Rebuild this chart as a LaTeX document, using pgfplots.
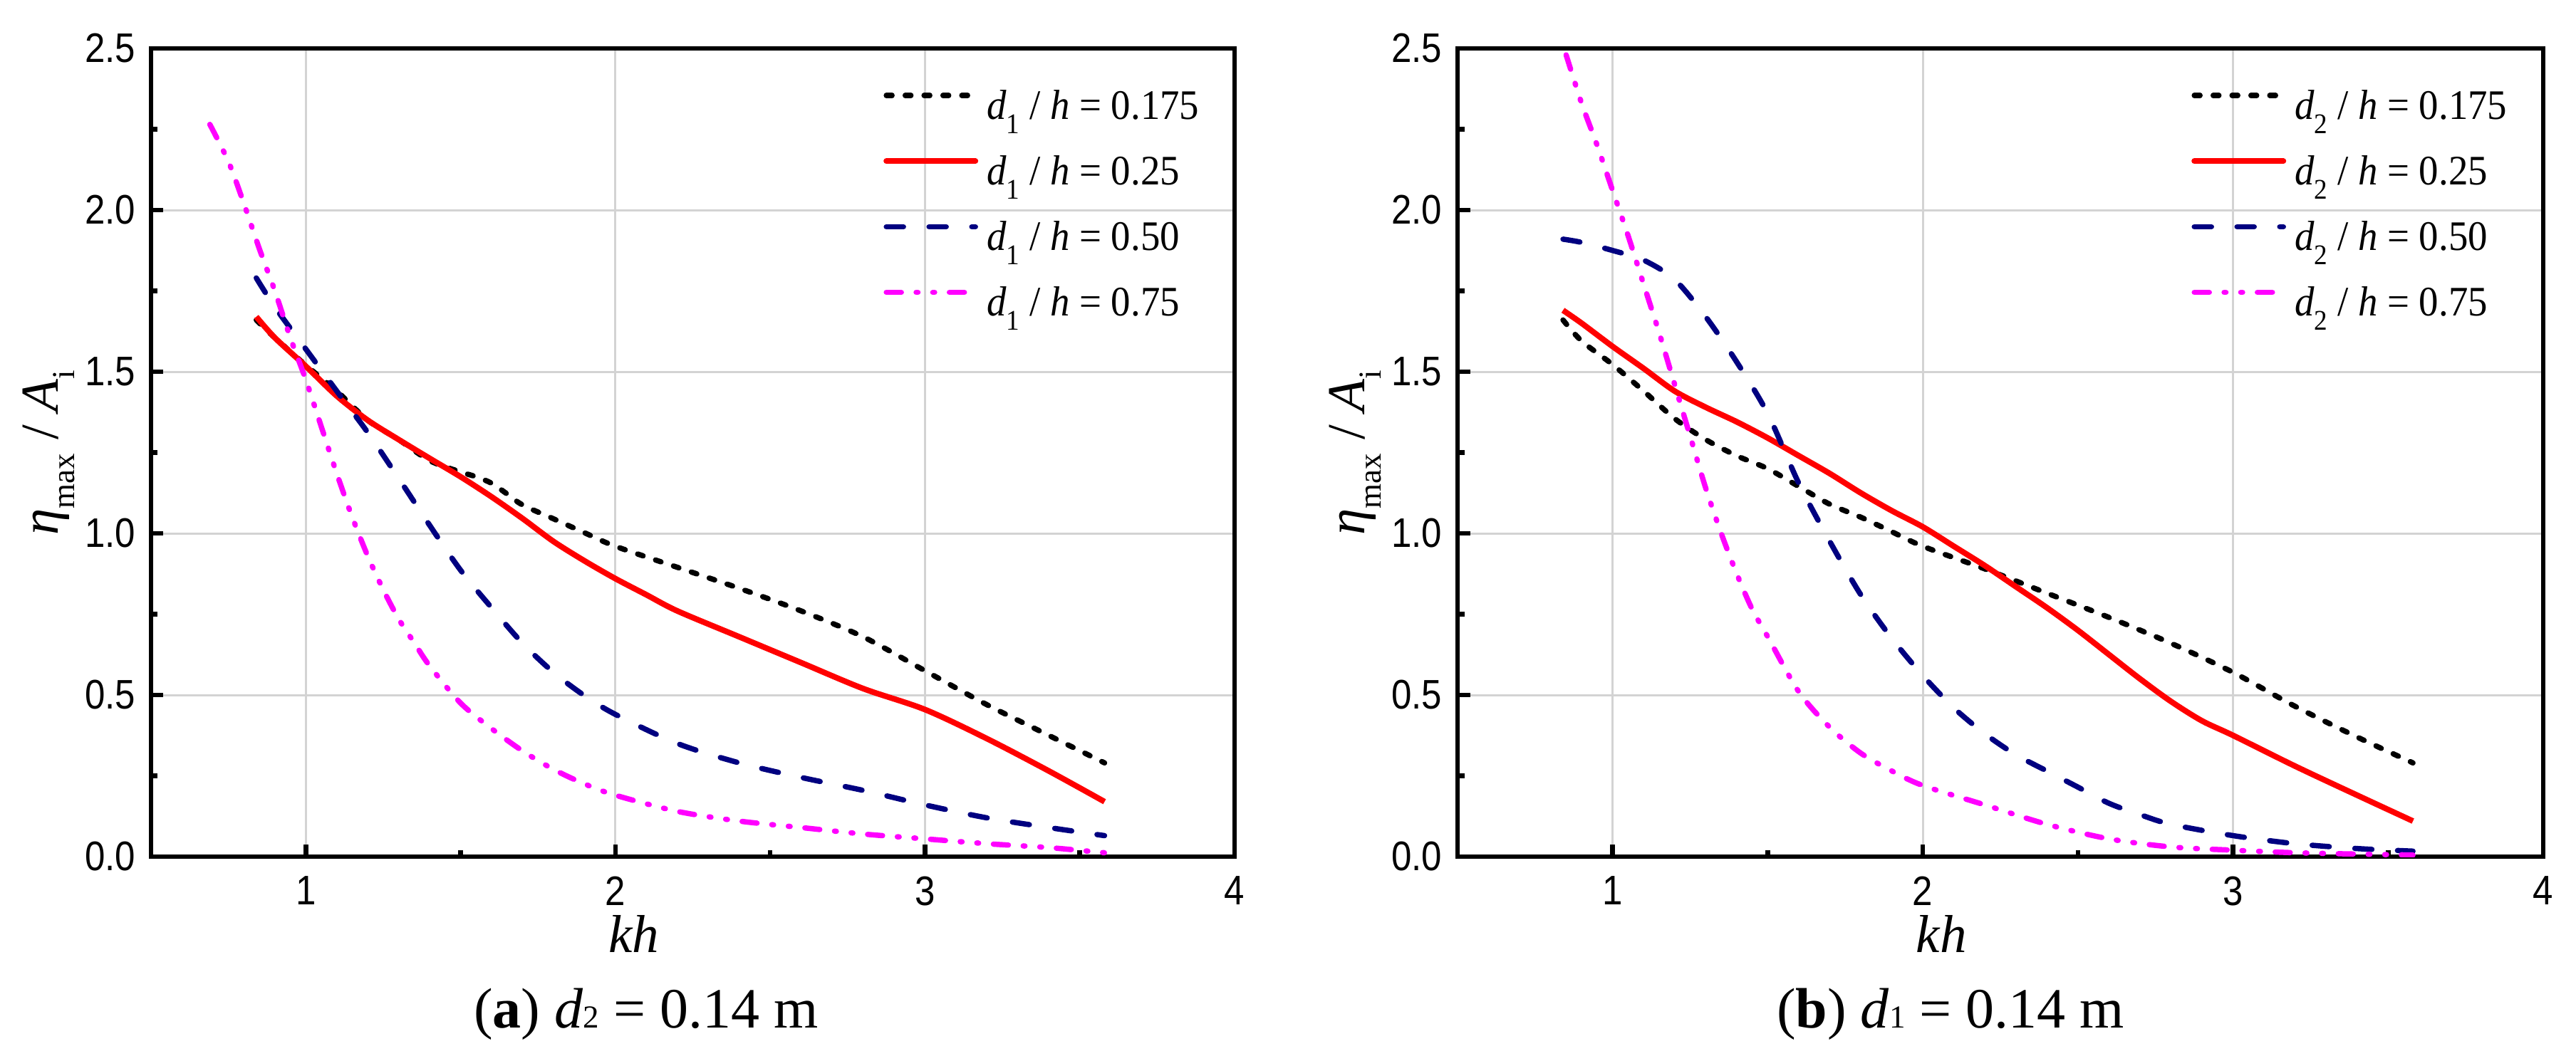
\documentclass[border=0pt]{standalone}
\usepackage{fontspec}
\setmainfont{Liberation Serif}
\newfontfamily\ticksans[FakeStretch=0.88]{Liberation Sans}
\newfontfamily\legfont[FakeStretch=0.93]{Liberation Serif}
\usepackage{pgfplots}
\pgfplotsset{compat=1.18}
\definecolor{navyc}{RGB}{0,0,128}
\definecolor{magc}{RGB}{255,0,255}
\definecolor{gridc}{RGB}{211,211,211}
\newcommand{\lsub}[1]{\raisebox{-4pt}{\fontsize{8}{8}\selectfont #1}}
\newcommand{\ysub}[1]{\raisebox{-4.5pt}{\fontsize{9}{9}\selectfont #1}}

\pgfplotsset{
  myaxis/.style={
    scale only axis, height=227pt, anchor=south west,
    xmin=0.5, xmax=4, ymin=0, ymax=2.5,
    xtick={1,2,3,4}, minor xtick={1.5,2.5,3.5},
    ytick={0,0.5,1,1.5,2,2.5}, minor ytick={0.25,0.75,1.25,1.75,2.25},
    tick align=inside, xtick pos=bottom, ytick pos=left,
    major tick length=3.5pt, minor tick length=1.9pt,
    every tick/.style={black, line width=1.3pt},
    axis line style={line width=1.3pt},
    grid=major, major grid style={color=gridc, line width=0.6pt},
    /pgf/number format/assume math mode=true,
    ticklabel style={font=\ticksans\fontsize{11.6}{12}\selectfont},
    yticklabel style={/pgf/number format/fixed, /pgf/number format/fixed zerofill, /pgf/number format/precision=1},
    y tick label style={inner xsep=0pt, xshift=-4.2pt},
    x tick label style={inner ysep=0pt, yshift=-5.4pt},
    every axis x label/.style={at={(axis description cs:0.4457,0)}, anchor=base, yshift=-26.8pt},
    every axis y label/.style={at={(axis description cs:-0.0855,0.5)}, rotate=90, anchor=base},
    label style={font=\fontsize{15}{15}\selectfont},
    xlabel={\textit{kh}},
    ylabel={\textit{η}\ysub{max} / \textit{A}\ysub{i}},
    legend style={at={(0.676,0.948)}, anchor=north west, draw=none, fill=none,
      inner sep=0pt, outer sep=0pt, row sep=7.44pt, column sep=2.4pt,
      font=\legfont\fontsize{11.8}{12}\selectfont,
      nodes={inner sep=0pt, text height=8pt, text depth=3pt}},
    legend cell align=left,
    legend image code/.code={\draw[##1, line cap=round] (0.8pt,4.1pt) -- (25.8pt,4.1pt);},
  },
  cblack/.style={black, line width=1.5pt, line cap=round, dash pattern=on 1.6pt off 3.7pt},
  cred/.style={red, line width=1.6pt},
  cblue/.style={navyc, line width=1.5pt, line cap=round, dash pattern=on 4.8pt off 7.2pt},
  cmag/.style={magc, line width=1.5pt, line cap=round, dash pattern=on 4.2pt off 4.17pt on 0.5pt off 4.17pt on 0.5pt off 4.17pt},
}

\begin{document}
\begin{tikzpicture}
\useasboundingbox (0,0) rectangle (723.2pt,297.8pt);

% ---------------- (a) ----------------
\begin{axis}[myaxis, at={(42.4pt,57.2pt)}, width=304.2pt]
\addplot[cblack, smooth] coordinates {
(0.84,1.66)(0.9,1.605)(1.0,1.52)(1.1,1.44)(1.2,1.35)(1.3,1.29)(1.4,1.225)
(1.5,1.19)(1.55,1.175)(1.6,1.155)(1.65,1.122)(1.7,1.088)(1.8,1.045)(1.9,1.002)
(2.0,0.96)(2.2,0.895)(2.4,0.83)(2.6,0.76)(2.8,0.68)(3.0,0.575)(3.2,0.47)
(3.4,0.375)(3.58,0.29)};
\addlegendentry{\textit{d}\lsub{1} / \textit{h} = 0.175}
\addplot[cred, smooth] coordinates {
(0.84,1.67)(0.9,1.605)(1.0,1.517)(1.1,1.425)(1.2,1.35)(1.3,1.29)(1.4,1.232)
(1.5,1.175)(1.6,1.113)(1.7,1.046)(1.8,0.975)(1.9,0.915)(2.0,0.86)(2.1,0.81)
(2.2,0.76)(2.4,0.68)(2.6,0.60)(2.8,0.52)(3.0,0.455)(3.2,0.365)(3.4,0.265)(3.58,0.17)};
\addlegendentry{\textit{d}\lsub{1} / \textit{h} = 0.25}
\addplot[cblue, smooth] coordinates {
(0.84,1.79)(0.9,1.70)(1.0,1.57)(1.1,1.44)(1.2,1.312)(1.3,1.17)(1.4,1.025)
(1.5,0.886)(1.6,0.77)(1.7,0.66)(1.8,0.57)(1.9,0.498)(2.0,0.44)(2.2,0.35)
(2.4,0.29)(2.6,0.245)(2.8,0.205)(3.0,0.16)(3.2,0.12)(3.4,0.09)(3.58,0.065)};
\addlegendentry{\textit{d}\lsub{1} / \textit{h} = 0.50}
\addplot[cmag, smooth] coordinates {
(0.69,2.265)(0.75,2.15)(0.8,2.02)(0.85,1.88)(0.9,1.75)(0.95,1.605)(1.0,1.475)
(1.05,1.33)(1.1,1.185)(1.15,1.05)(1.2,0.93)(1.25,0.826)(1.3,0.735)(1.35,0.662)
(1.4,0.59)(1.5,0.475)(1.6,0.396)(1.7,0.327)(1.8,0.27)(1.9,0.225)(2.0,0.19)
(2.2,0.14)(2.4,0.11)(2.6,0.09)(2.8,0.07)(3.0,0.055)(3.2,0.04)(3.4,0.028)(3.58,0.012)};
\addlegendentry{\textit{d}\lsub{1} / \textit{h} = 0.75}
\end{axis}

% ---------------- (b) ----------------
\begin{axis}[myaxis, at={(409.2pt,57.2pt)}, width=304.8pt]
\addplot[cblack, smooth] coordinates {
(0.84,1.66)(0.9,1.595)(1.0,1.522)(1.1,1.44)(1.2,1.355)(1.3,1.29)(1.4,1.24)
(1.5,1.20)(1.6,1.145)(1.7,1.09)(1.8,1.05)(1.9,1.005)(2.0,0.96)(2.2,0.89)
(2.4,0.815)(2.6,0.74)(2.8,0.66)(3.0,0.57)(3.2,0.465)(3.4,0.37)(3.58,0.29)};
\addlegendentry{\textit{d}\lsub{2} / \textit{h} = 0.175}
\addplot[cred, smooth] coordinates {
(0.84,1.69)(0.9,1.65)(1.0,1.578)(1.1,1.51)(1.2,1.44)(1.3,1.39)(1.4,1.345)
(1.5,1.295)(1.6,1.24)(1.7,1.185)(1.8,1.125)(1.9,1.07)(2.0,1.02)(2.1,0.96)
(2.2,0.90)(2.3,0.835)(2.4,0.77)(2.5,0.70)(2.6,0.625)(2.7,0.55)(2.8,0.48)
(2.9,0.42)(3.0,0.375)(3.2,0.28)(3.4,0.19)(3.58,0.11)};
\addlegendentry{\textit{d}\lsub{2} / \textit{h} = 0.25}
\addplot[cblue, smooth] coordinates {
(0.84,1.91)(0.9,1.90)(1.0,1.875)(1.1,1.845)(1.2,1.785)(1.3,1.67)(1.4,1.53)
(1.5,1.37)(1.6,1.155)(1.7,0.975)(1.8,0.81)(1.9,0.675)(2.0,0.56)(2.1,0.46)
(2.2,0.38)(2.3,0.315)(2.4,0.265)(2.5,0.215)(2.6,0.165)(2.7,0.13)(2.8,0.10)
(3.0,0.065)(3.2,0.04)(3.4,0.025)(3.58,0.017)};
\addlegendentry{\textit{d}\lsub{2} / \textit{h} = 0.50}
\addplot[cmag, smooth] coordinates {
(0.85,2.48)(0.9,2.33)(0.95,2.2)(1.0,2.06)(1.05,1.92)(1.1,1.77)(1.15,1.62)
(1.2,1.46)(1.25,1.30)(1.3,1.14)(1.35,1.00)(1.4,0.875)(1.45,0.765)(1.5,0.68)
(1.6,0.51)(1.7,0.40)(1.8,0.32)(1.9,0.265)(2.0,0.22)(2.2,0.16)(2.4,0.10)
(2.6,0.055)(2.8,0.03)(3.0,0.02)(3.2,0.012)(3.4,0.008)(3.58,0.005)};
\addlegendentry{\textit{d}\lsub{2} / \textit{h} = 0.75}
\end{axis}

\node[anchor=base, inner sep=0pt] at (181.4pt,9.2pt)
  {\fontsize{16}{16}\selectfont (\textbf{a}) \textit{d}{\fontsize{9}{9}\selectfont 2} = 0.14 m};
\node[anchor=base, inner sep=0pt] at (547.6pt,9.2pt)
  {\fontsize{16}{16}\selectfont (\textbf{b}) \textit{d}{\fontsize{9}{9}\selectfont 1} = 0.14 m};
\end{tikzpicture}
\end{document}
